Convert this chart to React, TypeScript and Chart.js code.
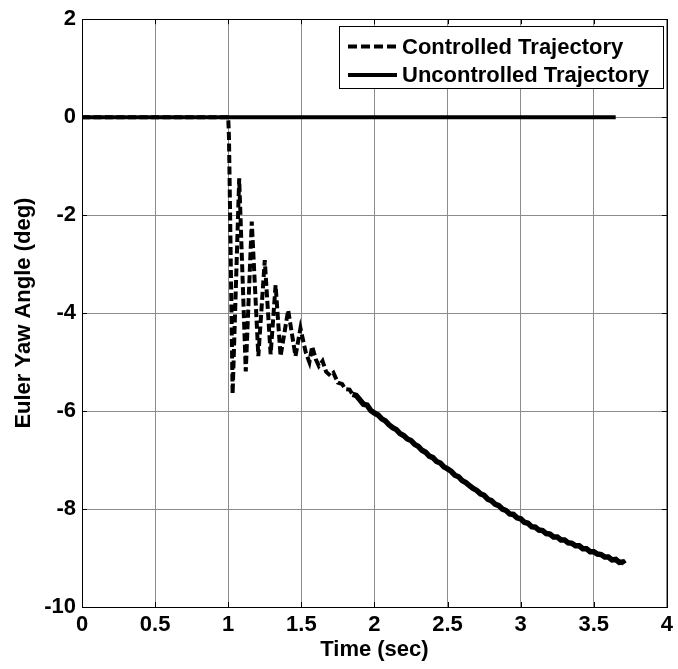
import React, { useEffect, useRef } from "react";
import { Chart, registerables } from "chart.js";

Chart.register(...registerables);

const xTickValues = [0, 0.5, 1, 1.5, 2, 2.5, 3, 3.5, 4];
const xTickLabels = ["0", "0.5", "1", "1.5", "2", "2.5", "3", "3.5", "4"];
const yTickValues = [-10, -8, -6, -4, -2, 0, 2];
const yTickLabels = ["-10", "-8", "-6", "-4", "-2", "0", "2"];
const seriesLabels = ["Controlled Trajectory", "Uncontrolled Trajectory"];
const xTitle = "Time (sec)";
const yTitle = "Euler Yaw Angle (deg)";

const uncontrolledX = [0, 3.65];
const uncontrolledY = [0, 0];

const controlledX = [
  0, 1.0, 1.005, 1.012, 1.03, 1.075, 1.12, 1.161, 1.206, 1.25, 1.29, 1.324, 1.358, 1.41, 1.46, 1.494,
  1.53, 1.555, 1.574, 1.6, 1.62, 1.645, 1.67, 1.7, 1.72, 1.75, 1.78, 1.8, 1.83, 1.85, 1.875, 1.9,
  1.925, 1.95, 1.975, 2.0, 2.025, 2.05, 2.075, 2.1, 2.125, 2.15, 2.175, 2.2, 2.225, 2.25, 2.275, 2.3,
  2.325, 2.35, 2.375, 2.4, 2.425, 2.45, 2.475, 2.5, 2.525, 2.55, 2.575, 2.6, 2.625, 2.65, 2.675, 2.7,
  2.725, 2.75, 2.775, 2.8, 2.825, 2.85, 2.875, 2.9, 2.925, 2.95, 2.975, 3.0, 3.025, 3.05, 3.075, 3.1,
  3.125, 3.15, 3.175, 3.2, 3.225, 3.25, 3.275, 3.3, 3.325, 3.35, 3.375, 3.4, 3.425, 3.45, 3.475, 3.5,
  3.525, 3.55, 3.575, 3.6, 3.625, 3.65, 3.675, 3.7, 3.71,
];
const controlledY = [
  0, 0, -0.4, -1.8, -5.65, -1.25, -5.19, -2.13, -4.88, -2.92, -4.84, -3.43, -4.88, -3.94, -4.88, -4.31,
  -4.8, -5.0, -4.68, -4.95, -5.08, -4.98, -5.2, -5.28, -5.22, -5.42, -5.45, -5.55, -5.56, -5.66, -5.68, -5.77,
  -5.86, -5.88, -5.99, -6.04, -6.08, -6.16, -6.2, -6.28, -6.34, -6.38, -6.46, -6.5, -6.57, -6.6, -6.68, -6.72,
  -6.8, -6.84, -6.92, -6.95, -7.03, -7.06, -7.14, -7.18, -7.23, -7.31, -7.34, -7.42, -7.46, -7.52, -7.58, -7.62,
  -7.69, -7.72, -7.8, -7.83, -7.9, -7.93, -8.0, -8.03, -8.1, -8.11, -8.18, -8.2, -8.27, -8.29, -8.36, -8.37,
  -8.43, -8.44, -8.5, -8.51, -8.57, -8.57, -8.63, -8.63, -8.69, -8.7, -8.75, -8.75, -8.81, -8.81, -8.87, -8.87,
  -8.92, -8.93, -8.98, -8.98, -9.04, -9.03, -9.09, -9.08, -9.12,
];

const FONT = "'Liberation Sans', Arial, sans-serif";

export default function App() {
  const ref = useRef<HTMLCanvasElement>(null);

  useEffect(() => {
    if (!ref.current) return;

    const matlabPlugin = {
      id: "matlabBox",
      afterDatasetsDraw(chart: any) {
        const { ctx, chartArea } = chart;
        const { left, right, top, bottom } = chartArea;
        const xs = chart.scales.x;
        const ys = chart.scales.y;
        ctx.save();
        ctx.strokeStyle = "#000";
        ctx.lineWidth = 1;
        ctx.setLineDash([]);
        ctx.strokeRect(Math.round(left) + 0.5, Math.round(top) + 0.5, Math.round(right - left), Math.round(bottom - top));
        const tl = 5;
        ctx.beginPath();
        xTickValues.forEach((v) => {
          const px = Math.round(xs.getPixelForValue(v)) + 0.5;
          ctx.moveTo(px, bottom);
          ctx.lineTo(px, bottom - tl);
          ctx.moveTo(px, top);
          ctx.lineTo(px, top + tl);
        });
        yTickValues.forEach((v) => {
          const py = Math.round(ys.getPixelForValue(v)) + 0.5;
          ctx.moveTo(left, py);
          ctx.lineTo(left + tl, py);
          ctx.moveTo(right, py);
          ctx.lineTo(right - tl, py);
        });
        ctx.stroke();

        // legend
        const lx = 339.5, ly = 26.5, lw = 324, lh = 62;
        ctx.fillStyle = "#fff";
        ctx.fillRect(lx, ly, lw, lh);
        ctx.strokeRect(lx, ly, lw, lh);
        const rows = [46.5, 75];
        const widths = [4, 4];
        const dashes = [[9, 4], []];
        ctx.font = `bold 22px ${FONT}`;
        ctx.textBaseline = "middle";
        ctx.textAlign = "left";
        rows.forEach((ry, i) => {
          ctx.beginPath();
          ctx.lineWidth = widths[i];
          ctx.setLineDash(dashes[i]);
          ctx.moveTo(348, ry);
          ctx.lineTo(397, ry);
          ctx.stroke();
          ctx.setLineDash([]);
          ctx.fillStyle = "#000";
          ctx.fillText(seriesLabels[i], 402, ry + 1);
        });
        ctx.restore();
      },
    };

    const tickFont = { family: FONT, size: 22, weight: "bold" as const };

    const chart = new Chart(ref.current, {
      type: "line",
      data: {
        datasets: [
          {
            label: seriesLabels[0],
            data: controlledX.map((x, i) => ({ x, y: controlledY[i] })),
            borderColor: "#000",
            borderWidth: 4,
            borderDash: [8, 3.5],
            pointRadius: 0,
            fill: false,
            tension: 0,
            segment: {
              borderDash: (c: any) => (c.p0.parsed.x >= 1.85 ? [] : [8, 3.5]),
              borderWidth: (c: any) => (c.p0.parsed.x >= 1.85 ? 5.5 : 4),
            },
          },
          {
            label: seriesLabels[1],
            data: uncontrolledX.map((x, i) => ({ x, y: uncontrolledY[i] })),
            borderColor: "#000",
            borderWidth: 4,
            pointRadius: 0,
            fill: false,
            tension: 0,
          },
        ],
      },
      options: {
        responsive: false,
        animation: false,
        events: [],
        layout: { padding: { top: 16, right: 8, left: 0, bottom: 0 } },
        plugins: { legend: { display: false }, tooltip: { enabled: false } },
        scales: {
          x: {
            type: "linear",
            min: 0,
            max: 4,
            afterBuildTicks: (axis: any) => {
              axis.ticks = xTickValues.map((v) => ({ value: v }));
            },
            afterFit: (s: any) => {
              s.height = 62;
            },
            grid: { color: "#8c8c8c", lineWidth: 1, drawTicks: false },
            border: { color: "#000", width: 1 },
            ticks: {
              padding: 5,
              color: "#000",
              font: tickFont,
              maxRotation: 0,
              autoSkip: false,
              callback: (v: any) => {
                const i = xTickValues.indexOf(Number(v));
                return i >= 0 ? xTickLabels[i] : "";
              },
            },
            title: { display: true, text: xTitle, color: "#000", font: tickFont, padding: { top: 0, bottom: 6 } },
          },
          y: {
            type: "linear",
            min: -10,
            max: 2,
            afterBuildTicks: (axis: any) => {
              axis.ticks = yTickValues.map((v) => ({ value: v }));
            },
            afterFit: (s: any) => {
              s.width = 82;
            },
            grid: { color: "#8c8c8c", lineWidth: 1, drawTicks: false },
            border: { color: "#000", width: 1 },
            ticks: {
              padding: 6,
              color: "#000",
              font: tickFont,
              autoSkip: false,
              callback: (v: any) => {
                const i = yTickValues.indexOf(Number(v));
                return i >= 0 ? yTickLabels[i] : "";
              },
            },
            title: { display: true, text: yTitle, color: "#000", font: tickFont, padding: { top: 11, bottom: 0 } },
          },
        },
      },
      plugins: [matlabPlugin],
    });

    return () => chart.destroy();
  }, []);

  return (
    <div style={{ position: "absolute", left: 0, top: 0, width: 678, height: 669, background: "#fff" }}>
      <canvas ref={ref} width={678} height={669} style={{ display: "block" }} />
    </div>
  );
}
